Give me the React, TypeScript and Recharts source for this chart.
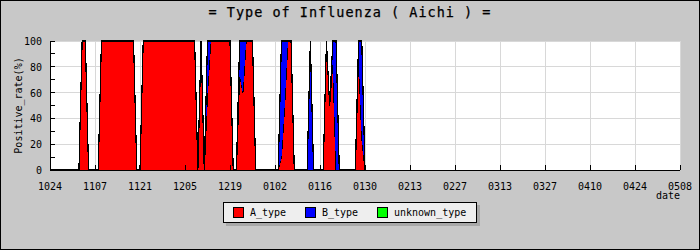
import React from 'react';
import { AreaChart, Area, XAxis, YAxis, CartesianGrid, Legend } from 'recharts';

// Days counted from 10/24 (day 0) to 05/08 (day 196)
const dayTicks = [0, 14, 28, 42, 56, 70, 84, 98, 112, 126, 140, 154, 168, 182, 196];
const tickLabels = ['1024', '1107', '1121', '1205', '1219', '0102', '0116', '0130', '0213', '0227', '0313', '0327', '0410', '0424', '0508'];

// Daily positive rate (%) of type A, one value per day from 10/24
const aType = [
  0, 0, 0, 0, 0, 0, 0, 0, 0, 0, 100, 100, 0, 0,
  0, 0, 100, 100, 100, 100, 100, 100, 100, 100, 100, 100, 100, 0,
  0, 100, 100, 100, 100, 100, 100, 100, 100, 100, 100, 100, 100, 100,
  100, 100, 100, 100, 0, 100, 0, 60, 100, 100, 100, 100, 100, 100,
  100, 0, 0, 75, 60, 100, 100, 100, 0, 0, 0, 0, 0, 0,
  0, 0, 10, 50, 100, 100, 0, 0, 0, 0, 0, 0, 0, 0,
  0, 0, 100, 50, 85, 0, 0, 0, 0, 0, 0, 0, 90, 25,
  0,
];
const bType = [
  0, 0, 0, 0, 0, 0, 0, 0, 0, 0, 0, 0, 0, 0,
  0, 0, 0, 0, 0, 0, 0, 0, 0, 0, 0, 0, 0, 0,
  0, 0, 0, 0, 0, 0, 0, 0, 0, 0, 0, 0, 0, 0,
  0, 0, 0, 0, 0, 0, 0, 40, 0, 0, 0, 0, 0, 0,
  0, 0, 0, 25, 40, 0, 0, 0, 0, 0, 0, 0, 0, 0,
  0, 0, 90, 50, 0, 0, 0, 0, 0, 0, 0, 100, 0, 0,
  0, 0, 0, 0, 15, 100, 0, 0, 0, 0, 0, 0, 10, 75,
  0,
];
const unknownType = [
  0, 0, 0, 0, 0, 0, 0, 0, 0, 0, 0, 0, 0, 0,
  0, 0, 0, 0, 0, 0, 0, 0, 0, 0, 0, 0, 0, 0,
  0, 0, 0, 0, 0, 0, 0, 0, 0, 0, 0, 0, 0, 0,
  0, 0, 0, 0, 0, 0, 0, 0, 0, 0, 0, 0, 0, 0,
  0, 0, 0, 0, 0, 0, 0, 0, 0, 0, 0, 0, 0, 0,
  0, 0, 0, 0, 0, 0, 0, 0, 0, 0, 0, 0, 0, 0,
  0, 0, 0, 0, 0, 0, 0, 0, 0, 0, 0, 0, 0, 0,
  0,
];

const yTicks = [0, 10, 20, 30, 40, 50, 60, 70, 80, 90, 100];
const yGrid = [20, 40, 60, 80, 100];
const seriesNames = ['A_type', 'B_type', 'unknown_type'];
const seriesColors = ['#ff0000', '#0000ff', '#00ff00'];
const titleText = '= Type of Influenza ( Aichi ) =';
const yAxisTitle = 'Positive_rate(%)';
const xAxisTitle = 'date';

const data = aType.map((a, i) => ({
  day: i,
  A_type: a,
  B_type: bType[i],
  unknown_type: unknownType[i],
}));

const MONO = '"DejaVu Sans Mono", monospace';

const XTick = (props: any) => {
  const { x, y, payload } = props;
  const idx = dayTicks.indexOf(payload.value);
  const isLast = idx === dayTicks.length - 1;
  return (
    <g>
      <line x1={x} y1={y} x2={x} y2={y - 5} stroke="#000" strokeWidth={1} />
      <text x={x} y={y + 20} textAnchor="middle" fontFamily={MONO} fontSize={10} fill="#000">
        {tickLabels[idx]}
      </text>
      {isLast && (
        <text x={x} y={y + 29} textAnchor="end" fontFamily={MONO} fontSize={10} fill="#000">
          {xAxisTitle}
        </text>
      )}
    </g>
  );
};

const YTick = (props: any) => {
  const { x, y, payload } = props;
  const showLabel = yGrid.includes(payload.value) || payload.value === 0;
  return (
    <g>
      <line x1={x} y1={y} x2={x + 5} y2={y} stroke="#000" strokeWidth={1} />
      {showLabel && (
        <text x={x - 8} y={y + 4} textAnchor="end" fontFamily={MONO} fontSize={10} fill="#000">
          {payload.value}
        </text>
      )}
    </g>
  );
};

const YLabel = (props: any) => {
  const vb = props.viewBox || {};
  const cx = (vb.x || 0) + 21.5;
  const cy = (vb.y || 0) + (vb.height || 0) / 2;
  return (
    <text
      x={cx}
      y={cy}
      transform={`rotate(-90, ${cx}, ${cy})`}
      textAnchor="middle"
      fontFamily={MONO}
      fontSize={10}
      fill="#000"
    >
      {yAxisTitle}
    </text>
  );
};

const LegendBox = (props: any) => {
  const payload = props.payload || [];
  return (
    <div
      style={{
        boxSizing: 'border-box',
        width: 254,
        height: 21,
        background: '#eeeeee',
        border: '1px solid #000',
        boxShadow: '3px 3px 0 #a8a8a8',
        display: 'flex',
        alignItems: 'center',
        paddingLeft: 9,
        fontFamily: MONO,
        fontSize: 10,
        color: '#000',
      }}
    >
      {payload.map((entry: any, k: number) => {
        const i = seriesNames.indexOf(entry.value);
        return (
          <div
            key={entry.value}
            style={{ display: 'flex', alignItems: 'center', width: k < payload.length - 1 ? 72 : 'auto', flexShrink: 0 }}
          >
            <span
              style={{
                display: 'inline-block',
                boxSizing: 'border-box',
                flexShrink: 0,
                width: 11,
                height: 11,
                background: seriesColors[i],
                border: '1px solid #000',
                marginRight: 6,
              }}
            />
            <span style={{ whiteSpace: 'nowrap' }}>{entry.value}</span>
          </div>
        );
      })}
    </div>
  );
};

export default function App() {
  return (
    <div style={{ position: 'absolute', left: 0, top: 0, width: 700, height: 250, background: '#c8c8c8' }}>
      <style>{'.chartwrap svg line, .chartwrap svg path { shape-rendering: crispEdges; }'}</style>
      <svg width={700} height={30} style={{ position: 'absolute', left: 0, top: 0 }}>
        <text x={350} y={16.5} textAnchor="middle" fontFamily={MONO} fontSize={13.5} letterSpacing={1} fill="#000" stroke="#000" strokeWidth={0.25}>
          {titleText}
        </text>
      </svg>
      <div className="chartwrap" style={{ position: 'absolute', left: 0, top: 0 }}>
        <AreaChart width={700} height={250} data={data} margin={{ top: 41, right: 20, left: 0, bottom: 50 }}>
          <CartesianGrid
            stroke="#d8d8d8"
            fill="#ffffff"
            horizontalValues={yGrid}
            verticalValues={dayTicks}
          />
          <XAxis
            type="number"
            dataKey="day"
            domain={[0, 196]}
            ticks={dayTicks}
            interval={0}
            height={30}
            tickSize={0}
            tickMargin={0}
            tickLine={false}
            axisLine={{ stroke: '#000', strokeWidth: 1 }}
            tick={<XTick />}
            allowDataOverflow
          />
          <YAxis
            type="number"
            domain={[0, 100]}
            ticks={yTicks}
            interval={0}
            width={50}
            tickSize={0}
            tickMargin={0}
            tickLine={false}
            axisLine={{ stroke: '#000', strokeWidth: 1 }}
            tick={<YTick />}
            label={<YLabel />}
          />
          {seriesNames.map((name, i) => (
            <Area
              key={name}
              type="linear"
              dataKey={name}
              name={name}
              stackId="s"
              stroke="#000"
              strokeWidth={1.2}
              fill={seriesColors[i]}
              fillOpacity={1}
              isAnimationActive={false}
              dot={false}
              activeDot={false}
            />
          ))}
          <Legend
            layout="horizontal"
            verticalAlign="middle"
            align="center"
            content={<LegendBox />}
            wrapperStyle={{ left: 223, top: 202, width: 254, height: 21 }}
          />
        </AreaChart>
      </div>
      <div
        style={{
          position: 'absolute',
          left: 0,
          top: 0,
          width: 700,
          height: 250,
          boxSizing: 'border-box',
          border: '1px solid #000',
          pointerEvents: 'none',
        }}
      />
    </div>
  );
}
